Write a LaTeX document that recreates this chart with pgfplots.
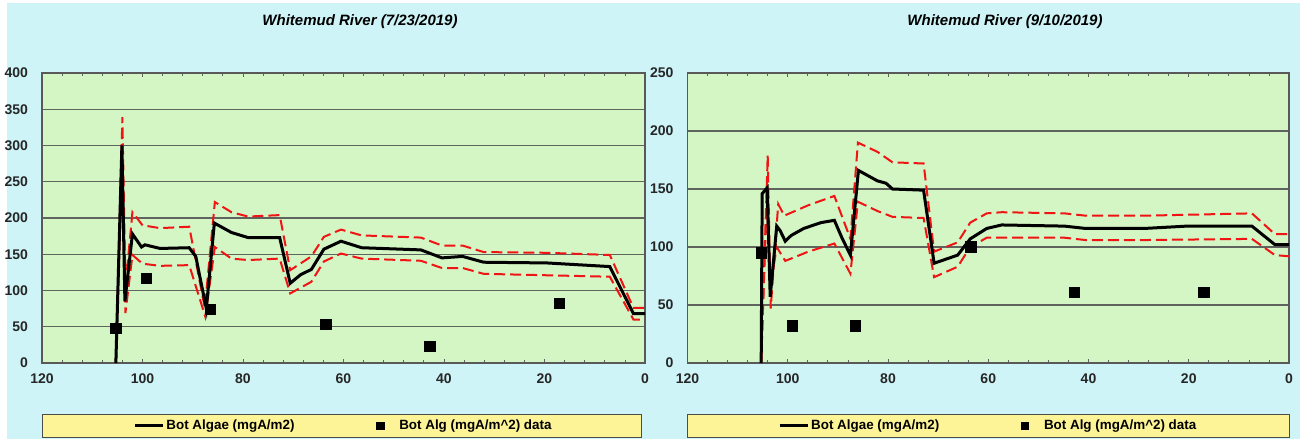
\documentclass[border=0pt]{standalone}
\usepackage{pgfplots}
\pgfplotsset{compat=1.18}
\usepackage{fontspec}
\setmainfont{Liberation Sans}
\definecolor{bgcyan}{RGB}{206,244,248}
\definecolor{plotgreen}{RGB}{212,245,196}
\definecolor{legyellow}{RGB}{252,244,150}
\definecolor{gridgray}{RGB}{95,100,95}
\definecolor{dashred}{RGB}{240,20,20}

\pgfplotsset{
  riverax/.style={
    scale only axis,
    anchor=south west,
    height=145pt,
    x dir=reverse,
    xmin=0, xmax=120,
    ymin=0,
    xtick={0,20,...,120},
    minor x tick num=4,
    tick align=inside,
    major tick length=2pt,
    minor tick length=1.5pt,
    ytick style={draw=none},
    xtick style={gridgray, line width=0.4pt},
    minor x tick style={gridgray, line width=0.4pt},
    ymajorgrids,
    grid style={gridgray, line width=0.6pt},
    axis line style={gray!70!black, line width=0.6pt},
    axis background/.style={fill=plotgreen},
    /pgf/number format/assume math mode=true,
    tick label style={font=\bfseries\fontsize{7}{8}\selectfont, text=black!85},
    xticklabel style={yshift=-2pt},
    yticklabel style={xshift=-3.5pt},
    clip=true,
    legend columns=2,
    legend cell align=left,
    legend style={draw=none, fill=none, font=\bfseries\fontsize{6.7}{7.7}\selectfont,
      at={(0.5,-0.217)}, anchor=center,
      nodes={inner sep=1pt},
      /tikz/every even column/.append style={column sep=40pt}},
  },
  meanline/.style={black, line width=1.5pt, mark=none,
    legend image code/.code={\draw[black, line width=1.5pt] (0pt,0pt) -- (14pt,0pt);}},
  bandline/.style={dashred, line width=1pt, dash pattern=on 5.5pt off 2.5pt, mark=none, forget plot},
  datamarks/.style={only marks, mark=square*, mark size=2.6pt, black,
    legend image code/.code={\fill[black] (0pt,-1.8pt) rectangle (3.6pt,1.8pt); \path (10pt,0pt);}},
}

\begin{document}
\begin{tikzpicture}
\path[use as bounding box] (0,0) rectangle (650pt,219.5pt);
\fill[white] (0,0) rectangle (650pt,219.5pt);
\fill[bgcyan] (3.5pt,0) rectangle (650pt,218pt);
% legend boxes
\fill[legyellow, draw=gray!60!black, line width=0.5pt] (21pt,1pt) rectangle (320.5pt,12.5pt);
\fill[legyellow, draw=gray!60!black, line width=0.5pt] (343.5pt,1pt) rectangle (644.5pt,12.5pt);
% titles
\node[font=\bfseries\itshape\fontsize{7.5}{9}\selectfont] at (180pt,208.5pt) {Whitemud River (7/23/2019)};
\node[font=\bfseries\itshape\fontsize{7.5}{9}\selectfont] at (502.5pt,208.5pt) {Whitemud River (9/10/2019)};

\begin{axis}[riverax, at={(21pt,38pt)}, width=301.5pt, ymax=400, ytick={0,50,...,400}]
\addplot[bandline] coordinates {
(105.3,0) (104.0,339) (103.4,105) (102,208) (100,190) (96.5,186) (90.7,188) (87.6,76) (85.6,222) (82.3,208) (79,202) (72.7,204) (70.6,128) (66.4,147) (63.9,174) (60.5,184) (56.4,176) (44.6,173) (40.4,162) (36.3,162) (32.1,153) (19.5,152) (7,149) (2.3,76) (0,76)
};
\addplot[bandline] coordinates {
(105.3,0) (104.1,270) (103.4,69) (102,149) (100,137) (96.5,134) (90.7,135) (87.5,64) (85.6,160) (82.3,144) (79,142) (72.7,144) (70.6,96) (66.4,112) (63.9,140) (60.5,151) (56.4,144) (44.6,141) (40.4,131) (36.3,131) (32.1,123) (19.5,121) (7,119) (2.3,60) (0,60)
};
\addplot[meanline] coordinates {
(105.3,0) (104.1,300) (103.5,85) (102,178) (100.2,160) (99.5,163) (96.5,158) (90.7,159) (89.4,147) (87.3,75) (85.7,193) (82.3,180) (79,173) (72.7,173) (70.6,110) (68.5,122) (66.4,129) (63.9,157) (60.5,168) (56.4,159) (44.6,156) (40.4,145) (36.3,147) (32.1,139) (19.5,138) (7,133) (2.3,68) (0,68)
};
\addlegendentry{Bot Algae (mgA/m2)}
\addplot[datamarks] coordinates {
(105.3,48) (99.2,117) (86.5,74) (63.5,53) (42.8,23) (17,82)
};
\addlegendentry{Bot Alg (mgA/m\textasciicircum 2) data}
\end{axis}

\begin{axis}[riverax, at={(343.75pt,38pt)}, width=300.75pt, ymax=250, ytick={0,50,...,250}]
\addplot[bandline] coordinates {
(105.3,0) (104,179) (103.4,47) (101.9,137) (100.7,127) (95.9,136) (90.7,144) (87.5,107) (86,190) (82.1,182) (79.1,173) (72.9,172) (70.8,96) (66.1,104) (63.6,121) (60.3,129) (57.3,130) (44.8,129) (40.6,127) (28.8,127) (7.4,129) (2.8,111) (0,111)
};
\addplot[bandline] coordinates {
(105.3,0) (104.2,140) (103.5,65) (102.2,100) (100.5,88) (95.9,96) (90.7,103) (87.5,77) (86,139) (82.1,131) (79.1,126) (72.9,125) (70.8,74) (66.1,83) (63.6,100) (60.3,108) (57.3,108) (44.8,108) (40.6,106) (28.8,106) (7.4,107) (2.8,93) (0,92)
};
\addplot[meanline] coordinates {
(105.3,0) (105.1,146) (104.1,151) (103.5,57) (102.2,118) (101.5,114) (100.5,105) (99.3,110) (96.8,116) (93.4,121) (90.7,123) (89.2,108) (87.5,93) (85.9,166) (82.1,157) (80.4,155) (79.1,150) (72.9,149) (70.8,86) (66.1,93) (63.6,107) (60.3,116) (57.3,119) (44.8,118) (40.6,116) (28.8,116) (20.4,118) (7.4,118) (2.8,102) (0,102)
};
\addlegendentry{Bot Algae (mgA/m2)}
\addplot[datamarks] coordinates {
(105.3,95) (99.1,32) (86.5,32) (63.5,100) (42.8,61) (17,61)
};
\addlegendentry{Bot Alg (mgA/m\textasciicircum 2) data}
\end{axis}
\end{tikzpicture}
\end{document}
